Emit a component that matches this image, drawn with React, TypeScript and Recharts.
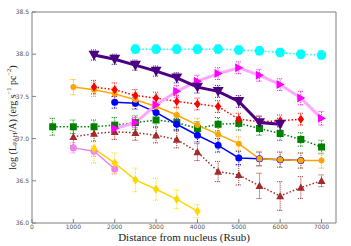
import { LineChart, Line, XAxis, YAxis, ErrorBar, Label } from "recharts";

const N = null;

// distance from nucleus (Rsub)
const DISTANCES = [500, 1000, 1500, 2000, 2500, 3000, 3500, 4000, 4500, 5000, 5500, 6000, 6500, 7000];
const X_TICKS = [0, 1000, 2000, 3000, 4000, 5000, 6000, 7000];
const Y_TICKS = [36.0, 36.5, 37.0, 37.5, 38.0, 38.5];

const CYAN = [N, N, N, N, 38.06, 38.06, 38.06, 38.06, 38.06, 38.05, 38.04, 38.02, 38.0, 37.99];
const CYAN_ERR = [N, N, N, N, 0.05, 0.05, 0.05, 0.05, 0.05, 0.05, 0.05, 0.05, 0.05, 0.05];
const INDIGO = [N, N, 37.99, 37.94, 37.87, 37.8, 37.72, 37.61, 37.56, 37.44, 37.19, 37.17, N, N];
const INDIGO_ERR = [N, N, 0.06, 0.06, 0.06, 0.06, 0.06, 0.07, 0.07, 0.07, 0.07, 0.07, N, N];
const MAGENTA = [N, N, N, 37.12, 37.19, 37.4, 37.56, 37.68, 37.77, 37.84, 37.75, 37.64, 37.48, 37.24];
const MAGENTA_ERR = [N, N, N, 0.06, 0.06, 0.07, 0.07, 0.07, 0.07, 0.07, 0.07, 0.07, 0.08, 0.08];
const RED = [N, N, 37.61, 37.58, 37.51, 37.48, 37.44, 37.41, 37.38, 37.23, 37.2, 37.21, 37.23, N];
const RED_ERR = [N, N, 0.08, 0.08, 0.07, 0.07, 0.07, 0.07, 0.07, 0.07, 0.07, 0.07, 0.07, N];
const ORANGE = [N, 37.61, 37.58, 37.53, 37.46, 37.38, 37.28, 37.16, 37.05, 36.94, 36.76, 36.75, 36.74, 36.74];
const ORANGE_ERR = [N, 0.09, 0.08, 0.08, 0.08, 0.08, 0.08, 0.08, 0.08, 0.08, 0.09, 0.09, 0.09, 0.09];
const BLUE = [N, N, N, 37.43, 37.42, 37.31, 37.17, 37.04, 36.92, 36.77, 36.76, 36.75, 36.74, N];
const BLUE_ERR = [N, N, N, 0.07, 0.07, 0.07, 0.07, 0.08, 0.08, 0.08, 0.08, 0.09, 0.09, N];
const GREEN = [37.14, 37.14, 37.14, 37.16, 37.19, 37.22, 37.19, 37.12, 37.17, 37.18, 37.12, 37.06, 36.99, 36.9];
const GREEN_ERR = [0.1, 0.08, 0.08, 0.09, 0.08, 0.08, 0.08, 0.08, 0.08, 0.08, 0.08, 0.08, 0.08, 0.08];
const BROWN = [N, 37.02, 37.06, 37.08, 37.07, 37.04, 36.99, 36.84, 36.61, 36.57, 36.44, 36.32, 36.42, 36.5];
const BROWN_ERR = [N, 0.1, 0.09, 0.09, 0.09, 0.09, 0.1, 0.1, 0.12, 0.12, 0.15, 0.17, 0.13, 0.07];
const GOLD = [N, N, 36.88, 36.71, 36.51, 36.4, 36.28, 36.14, N, N, N, N, N, N];
const GOLD_ERR = [N, N, 0.17, 0.12, 0.14, 0.13, 0.11, 0.08, N, N, N, N, N, N];
const VIOLET = [N, 36.89, 36.85, 36.64, N, N, N, N, N, N, N, N, N, N];
const VIOLET_ERR = [N, 0.06, 0.06, 0.06, N, N, N, N, N, N, N, N, N, N];

type Shape = "circle" | "square" | "diamond" | "triUp" | "triDown" | "triRight";

interface Series {
  key: string;
  values: (number | null)[];
  errors: (number | null)[];
  color: string;
  lineColor: string;
  lineWidth: number;
  dash?: string;
  shape: Shape;
  size: number;
}

// drawn in this order, last one on top
const SERIES: Series[] = [
  { key: "violet", values: VIOLET, errors: VIOLET_ERR, color: "#ee82ee", lineColor: "#ee82ee", lineWidth: 1.5, shape: "circle", size: 3.5 },
  { key: "gold", values: GOLD, errors: GOLD_ERR, color: "#ffd700", lineColor: "#ffd700", lineWidth: 1.5, shape: "diamond", size: 4.5 },
  { key: "brown", values: BROWN, errors: BROWN_ERR, color: "#a52a2a", lineColor: "#a52a2a", lineWidth: 1.5, dash: "1.5 2", shape: "triUp", size: 4 },
  { key: "green", values: GREEN, errors: GREEN_ERR, color: "#008000", lineColor: "#008000", lineWidth: 1.5, dash: "1.5 2", shape: "square", size: 3.5 },
  { key: "blue", values: BLUE, errors: BLUE_ERR, color: "#0000ff", lineColor: "#0000ff", lineWidth: 1.5, shape: "circle", size: 3.5 },
  { key: "orange", values: ORANGE, errors: ORANGE_ERR, color: "#ffa500", lineColor: "#ffa500", lineWidth: 1.5, shape: "circle", size: 3 },
  { key: "red", values: RED, errors: RED_ERR, color: "#ff0000", lineColor: "#ff0000", lineWidth: 1.5, dash: "1.5 2", shape: "diamond", size: 4.5 },
  { key: "magenta", values: MAGENTA, errors: MAGENTA_ERR, color: "#ff00ff", lineColor: "#ffa6ff", lineWidth: 3, shape: "triRight", size: 4.5 },
  { key: "indigo", values: INDIGO, errors: INDIGO_ERR, color: "#4b0082", lineColor: "#4b0082", lineWidth: 3, shape: "triDown", size: 5.5 },
  { key: "cyan", values: CYAN, errors: CYAN_ERR, color: "#00ffff", lineColor: "#00ffff", lineWidth: 1.5, dash: "1.5 2", shape: "circle", size: 4.8 },
];

const rows = DISTANCES.map((d, i) => {
  const row: Record<string, number | null | undefined> = { d };
  SERIES.forEach((s) => {
    row[s.key] = s.values[i];
    row[s.key + "Err"] = s.values[i] == null ? undefined : s.errors[i] ?? undefined;
  });
  return row;
});

function makeDot(shape: Shape, r: number, fill: string) {
  return (props: any) => {
    const { cx, cy, index, value } = props;
    if (cx == null || cy == null || value == null) return <g key={index} />;
    let el;
    if (shape === "circle") el = <circle cx={cx} cy={cy} r={r} fill={fill} />;
    else if (shape === "square")
      el = <rect x={cx - r} y={cy - r} width={2 * r} height={2 * r} fill={fill} />;
    else if (shape === "diamond")
      el = <polygon points={`${cx},${cy - r} ${cx + r * 0.72},${cy} ${cx},${cy + r} ${cx - r * 0.72},${cy}`} fill={fill} />;
    else if (shape === "triUp")
      el = <polygon points={`${cx},${cy - r} ${cx + r},${cy + r * 0.8} ${cx - r},${cy + r * 0.8}`} fill={fill} />;
    else if (shape === "triDown")
      el = <polygon points={`${cx},${cy + r} ${cx + r},${cy - r * 0.8} ${cx - r},${cy - r * 0.8}`} fill={fill} />;
    else
      el = <polygon points={`${cx + r},${cy} ${cx - r * 0.8},${cy - r} ${cx - r * 0.8},${cy + r}`} fill={fill} />;
    return <g key={index}>{el}</g>;
  };
}

const FRAME = "#7f7f7f";
const TICK_FONT = { fontSize: 6, fill: "#555", fontFamily: "DejaVu Sans" };
const SERIF = "Liberation Serif";

function YTitle(props: any) {
  const vb = props.viewBox || {};
  const cx = 12;
  const cy = (vb.y ?? 12) + (vb.height ?? 211) / 2;
  return (
    <text
      x={cx}
      y={cy}
      transform={`rotate(-90, ${cx}, ${cy})`}
      textAnchor="middle"
      dominantBaseline="central"
      fontFamily={SERIF}
      fontSize={10}
      fill="#222"
    >
      log (L
      <tspan fontSize={6.5} dy={2}>PAH</tspan>
      <tspan dy={-2}>/A) (erg s</tspan>
      <tspan fontSize={6.5} dy={-4}>−1</tspan>
      <tspan dy={4}> pc</tspan>
      <tspan fontSize={6.5} dy={-4}>−2</tspan>
      <tspan dy={4}>)</tspan>
    </text>
  );
}

function XTitle(props: any) {
  const vb = props.viewBox || {};
  const cx = (vb.x ?? 32) + (vb.width ?? 304) / 2;
  const y = (vb.y ?? 223) + 18;
  return (
    <text x={cx} y={y} textAnchor="middle" fontFamily={SERIF} fontSize={11} fill="#222">
      Distance from nucleus (Rsub)
    </text>
  );
}

export default function App() {
  return (
    <div style={{ position: "absolute", left: 0, top: 0, width: 351, height: 246, background: "#fff" }}>
      <LineChart width={351} height={246} data={rows} margin={{ top: 11, right: 14, bottom: 0, left: 0 }}>
        <XAxis
          dataKey="d"
          type="number"
          domain={[0, 7350]}
          ticks={X_TICKS}
          height={23}
          tick={TICK_FONT}
          tickSize={-4}
          tickMargin={6}
          tickLine={{ stroke: FRAME }}
          axisLine={{ stroke: FRAME }}
        >
          <Label content={XTitle} />
        </XAxis>
        <XAxis
          xAxisId="top"
          orientation="top"
          dataKey="d"
          type="number"
          domain={[0, 7350]}
          ticks={X_TICKS}
          height={1}
          tick={false}
          tickSize={-4}
          tickLine={{ stroke: FRAME }}
          axisLine={{ stroke: FRAME }}
        />
        <YAxis
          type="number"
          domain={[36, 38.5]}
          ticks={Y_TICKS}
          width={32}
          tick={TICK_FONT}
          tickFormatter={(v: number) => v.toFixed(1)}
          tickSize={-4}
          tickMargin={7}
          tickLine={{ stroke: FRAME }}
          axisLine={{ stroke: FRAME }}
        >
          <Label content={YTitle} />
        </YAxis>
        <YAxis
          yAxisId="right"
          orientation="right"
          type="number"
          domain={[36, 38.5]}
          ticks={Y_TICKS}
          width={1}
          tick={false}
          tickSize={-4}
          tickLine={{ stroke: FRAME }}
          axisLine={{ stroke: FRAME }}
        />
        {SERIES.map((s) => (
          <Line
            key={s.key}
            dataKey={s.key}
            type="linear"
            stroke={s.lineColor}
            strokeWidth={s.lineWidth}
            strokeDasharray={s.dash}
            dot={makeDot(s.shape, s.size, s.color)}
            activeDot={false}
            isAnimationActive={false}
          >
            <ErrorBar
              dataKey={s.key + "Err"}
              direction="y"
              width={3}
              stroke={s.color}
              strokeWidth={1}
              strokeDasharray="1 1"
              isAnimationActive={false}
            />
          </Line>
        ))}
      </LineChart>
    </div>
  );
}
